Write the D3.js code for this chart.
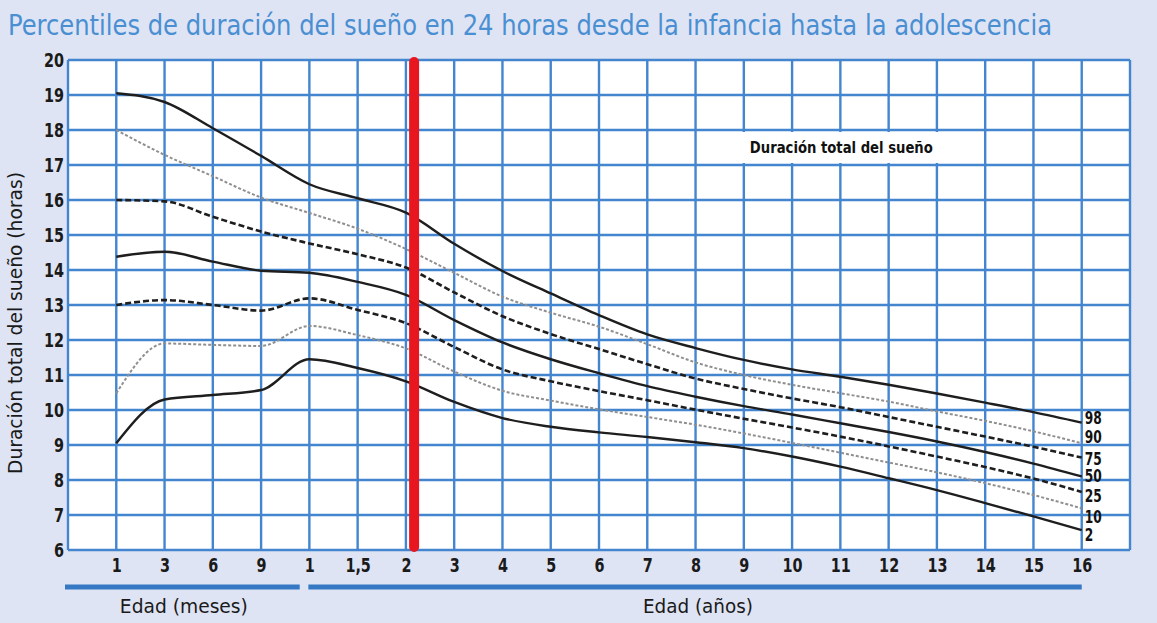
<!DOCTYPE html>
<html>
<head>
<meta charset="utf-8">
<script src="https://cdn.jsdelivr.net/npm/d3@7"></script>
<style>
    body { margin: 0; background: #dee4f4; }
    svg { display: block; }
</style>
</head>
<body>
<div id="chart"></div>
<script>
// Age categories (months, then years)
const ageLabels = ["1", "3", "6", "9", "1", "1,5", "2", "3", "4", "5", "6", "7", "8", "9", "10", "11", "12", "13", "14", "15", "16"];
const percentiles = ["98", "90", "75", "50", "25", "10", "2"];
const hourTicks = [6, 7, 8, 9, 10, 11, 12, 13, 14, 15, 16, 17, 18, 19, 20];

// Hours of sleep per percentile, one value per age
const p98 = [19.05, 18.8, 18.05, 17.26, 16.45, 16.05, 15.64, 14.75, 13.97, 13.33, 12.71, 12.16, 11.77, 11.43, 11.16, 10.95, 10.72, 10.47, 10.21, 9.94, 9.64];
const p90 = [18.0, 17.29, 16.68, 16.07, 15.63, 15.18, 14.6, 13.92, 13.24, 12.78, 12.38, 11.88, 11.36, 11.0, 10.72, 10.48, 10.24, 9.96, 9.69, 9.39, 9.05];
const p75 = [16.0, 15.96, 15.52, 15.1, 14.76, 14.45, 14.07, 13.36, 12.68, 12.17, 11.74, 11.31, 10.9, 10.6, 10.33, 10.08, 9.8, 9.52, 9.24, 8.95, 8.64];
const p50 = [14.38, 14.52, 14.24, 13.98, 13.92, 13.66, 13.29, 12.57, 11.93, 11.45, 11.05, 10.68, 10.38, 10.11, 9.87, 9.62, 9.37, 9.1, 8.8, 8.47, 8.1];
const p25 = [13.0, 13.14, 13.0, 12.84, 13.19, 12.86, 12.48, 11.8, 11.16, 10.82, 10.54, 10.28, 10.01, 9.75, 9.5, 9.24, 8.96, 8.67, 8.37, 8.04, 7.66];
const p10 = [10.48, 11.9, 11.86, 11.83, 12.4, 12.14, 11.76, 11.1, 10.55, 10.27, 10.02, 9.8, 9.58, 9.33, 9.06, 8.78, 8.5, 8.22, 7.91, 7.57, 7.19];
const p2 = [9.05, 10.3, 10.43, 10.57, 11.45, 11.2, 10.82, 10.23, 9.77, 9.52, 9.36, 9.23, 9.08, 8.91, 8.67, 8.38, 8.05, 7.71, 7.34, 6.96, 6.57];

const series = [p98, p90, p75, p50, p25, p10, p2];

// Line styles: solid / dotted grey / dashed
const styles = {
    solid:  { stroke: "#1e1e1e", width: 2.4, dash: null },
    dotted: { stroke: "#8f8f8f", width: 2, dash: "3,2" },
    dashed: { stroke: "#1e1e1e", width: 2.6, dash: "6,3" }
};
const seriesStyle = ["solid", "dotted", "dashed", "solid", "dashed", "dotted", "solid"];
// nudge of the percentile labels at the right end (px)
const labelNudge = [-5, -6, 1, 0, 4, 9, 5];

const condensed = "'Liberation Sans Narrow', 'DejaVu Sans Condensed', 'Open Sans', sans-serif";
const squeeze = "scale(0.8,1)";

// Dimensions
const W = 1157, H = 623;
const margin = { top: 60, right: 27, bottom: 73, left: 68 },
    width = W - margin.left - margin.right,
    height = H - margin.top - margin.bottom;

const svg = d3.select("#chart")
    .append("svg")
    .attr("width", W)
    .attr("height", H);

svg.append("rect")
    .attr("width", W)
    .attr("height", H)
    .attr("fill", "#dee4f4");

// Title
svg.append("text")
    .attr("x", 8)
    .attr("y", 35)
    .attr("fill", "#4a8fd2")
    .style("font-family", condensed)
    .style("font-size", "28px")
    .attr("textLength", 1044)
    .attr("lengthAdjust", "spacingAndGlyphs")
    .text("Percentiles de duración del sueño en 24 horas desde la infancia hasta la adolescencia");

const g = svg.append("g")
    .attr("transform", `translate(${margin.left},${margin.top})`);

// Scales: index 0 and 22 are the plot borders, 1..21 the ages
const x = d3.scaleLinear()
    .domain([0, ageLabels.length + 1])
    .range([0, width]);

const y = d3.scaleLinear()
    .domain([6, 20])
    .range([height, 0]);

// Plot background
g.append("rect")
    .attr("width", width)
    .attr("height", height)
    .attr("fill", "#fff");

// Grid
const gridColor = "#4485cf";
g.append("g")
    .selectAll("line")
    .data(d3.range(0, ageLabels.length + 2))
    .enter().append("line")
    .attr("x1", d => x(d))
    .attr("x2", d => x(d))
    .attr("y1", 0)
    .attr("y2", height)
    .attr("stroke", gridColor)
    .attr("stroke-width", 2.4);

g.append("g")
    .selectAll("line")
    .data(hourTicks)
    .enter().append("line")
    .attr("x1", 0)
    .attr("x2", width)
    .attr("y1", d => y(d))
    .attr("y2", d => y(d))
    .attr("stroke", gridColor)
    .attr("stroke-width", 2.4);

// Legend box (white label over the grid)
g.append("rect")
    .attr("x", x(14) - 3)
    .attr("y", y(18) + 2)
    .attr("width", x(18) - x(14) + 5)
    .attr("height", y(17) - y(18) - 4)
    .attr("fill", "#fff");

g.append("text")
    .attr("x", x(14) + 6)
    .attr("y", y(17.5))
    .attr("dy", "0.35em")
    .style("font-family", condensed)
    .style("font-size", "16px")
    .style("font-weight", "bold")
    .attr("fill", "#111")
    .attr("textLength", 183)
    .attr("lengthAdjust", "spacingAndGlyphs")
    .text("Duración total del sueño");

// Percentile lines
const line = d3.line()
    .x((d, i) => x(i + 1))
    .y(d => y(d))
    .curve(d3.curveMonotoneX);

g.selectAll(".pline")
    .data(series)
    .enter().append("path")
    .attr("class", "pline")
    .attr("d", d => line(d))
    .attr("fill", "none")
    .attr("stroke", (d, i) => styles[seriesStyle[i]].stroke)
    .attr("stroke-width", (d, i) => styles[seriesStyle[i]].width)
    .attr("stroke-dasharray", (d, i) => styles[seriesStyle[i]].dash);

// Percentile labels at the right end
g.selectAll(".plabel")
    .data(series)
    .enter().append("g")
    .attr("class", "plabel")
    .attr("transform", (d, i) => `translate(${x(ageLabels.length) + 3},${y(d[d.length - 1]) + labelNudge[i]})`)
    .append("text")
    .attr("transform", squeeze)
    .attr("dy", "0.35em")
    .style("font-family", condensed)
    .style("font-size", "17px")
    .style("font-weight", "bold")
    .attr("fill", "#111")
    .text((d, i) => percentiles[i]);

// Red marker after 2 years
g.append("line")
    .attr("x1", x(7.17))
    .attr("x2", x(7.17))
    .attr("y1", 2)
    .attr("y2", height - 3)
    .attr("stroke", "#e8161e")
    .attr("stroke-width", 10)
    .attr("stroke-linecap", "round");

// Y Axis
const yAxis = g.append("g")
    .call(d3.axisLeft(y).tickValues(hourTicks).tickSize(0).tickPadding(5));
yAxis.select(".domain").remove();
yAxis.selectAll("text")
    .attr("transform", squeeze)
    .style("font-family", condensed)
    .style("font-size", "20px")
    .style("font-weight", "bold")
    .attr("fill", "#1a1a1a");

g.append("text")
    .attr("transform", "rotate(-90)")
    .attr("x", -263)
    .attr("y", -46)
    .style("text-anchor", "middle")
    .style("font-family", condensed)
    .style("font-size", "19px")
    .attr("fill", "#1a1a1a")
    .attr("textLength", 302)
    .attr("lengthAdjust", "spacingAndGlyphs")
    .text("Duración total del sueño (horas)");

// X Axis
const xAxis = g.append("g")
    .attr("transform", `translate(0,${height})`)
    .call(d3.axisBottom(x)
        .tickValues(d3.range(1, ageLabels.length + 1))
        .tickFormat(i => ageLabels[i - 1])
        .tickSize(0)
        .tickPadding(8));
xAxis.select(".domain").remove();
xAxis.selectAll("text")
    .attr("transform", squeeze)
    .style("font-family", condensed)
    .style("font-size", "20px")
    .style("font-weight", "bold")
    .attr("fill", "#1a1a1a");

// Group bars under the axis
const barY = 37;
g.append("line")
    .attr("x1", x(0) - 3).attr("x2", x(4.8))
    .attr("y1", height + barY).attr("y2", height + barY)
    .attr("stroke", "#3579c4")
    .attr("stroke-width", 5);
g.append("line")
    .attr("x1", x(5) - 1).attr("x2", x(21))
    .attr("y1", height + barY).attr("y2", height + barY)
    .attr("stroke", "#3579c4")
    .attr("stroke-width", 5);

g.append("text")
    .attr("x", x(2.4))
    .attr("y", height + 63)
    .style("text-anchor", "middle")
    .style("font-family", condensed)
    .style("font-size", "20px")
    .attr("fill", "#1a1a1a")
    .attr("textLength", 128)
    .attr("lengthAdjust", "spacingAndGlyphs")
    .text("Edad (meses)");

g.append("text")
    .attr("x", x(13.05))
    .attr("y", height + 63)
    .style("text-anchor", "middle")
    .style("font-family", condensed)
    .style("font-size", "20px")
    .attr("fill", "#1a1a1a")
    .attr("textLength", 110)
    .attr("lengthAdjust", "spacingAndGlyphs")
    .text("Edad (años)");
</script>
</body>
</html>
